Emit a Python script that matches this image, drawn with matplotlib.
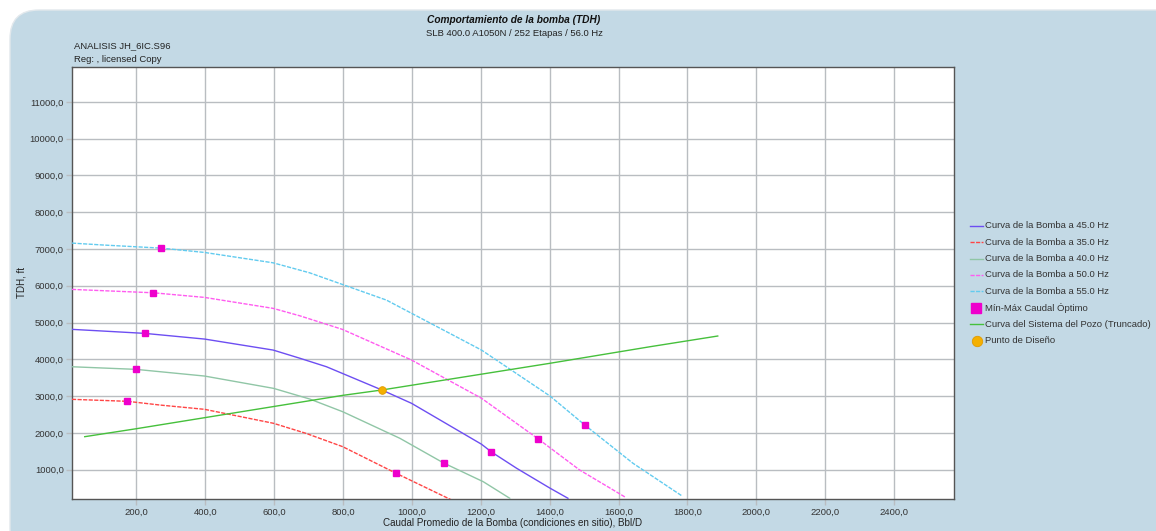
import matplotlib
matplotlib.use("Agg")
import matplotlib.pyplot as plt
from matplotlib.patches import FancyBboxPatch
from matplotlib.lines import Line2D

plt.rcParams['font.family'] = ['Liberation Sans', 'DejaVu Sans']

# ---- data ----
q_45 = [13, 103, 224, 398, 597, 674, 752, 913, 999, 1202, 1231, 1304, 1400, 1453]
h_45 = [4814, 4768, 4705, 4550, 4251, 4030, 3797, 3164, 2802, 1690, 1479, 1036, 500, 220]
q_35 = [13, 174, 268, 398, 598, 692, 799, 955, 1115]
h_35 = [2911, 2857, 2756, 2639, 2259, 1987, 1623, 895, 174]
q_40 = [13, 199, 398, 598, 703, 799, 965, 1092, 1207, 1284]
h_40 = [3797, 3726, 3544, 3210, 2920, 2574, 1851, 1180, 671, 220]
q_50 = [13, 249, 398, 597, 674, 798, 999, 1202, 1367, 1487, 1620]
h_50 = [5901, 5809, 5683, 5385, 5184, 4814, 3979, 2940, 1832, 989, 247]
q_55 = [13, 100, 271, 398, 597, 703, 926, 1202, 1401, 1503, 1642, 1783]
h_55 = [7160, 7110, 7024, 6906, 6624, 6352, 5610, 4251, 3000, 2204, 1171, 291]
opt_q = [174, 955, 199, 1092, 224, 1231, 249, 1367, 271, 1503]
opt_h = [2857, 895, 3726, 1180, 4705, 1479, 5809, 1832, 7024, 2204]
sys_q = [50, 200, 800, 912, 1400, 1691, 1888]
sys_h = [1895, 2112, 3020, 3164, 3890, 4341, 4633]
design_q = [912]
design_h = [3164]
x_ticks = [200, 400, 600, 800, 1000, 1200, 1400, 1600, 1800, 2000, 2200, 2400]
y_ticks = [1000, 2000, 3000, 4000, 5000, 6000, 7000, 8000, 9000, 10000, 11000]
legend_labels = ["Curva de la Bomba a 45.0 Hz", "Curva de la Bomba a 35.0 Hz",
                 "Curva de la Bomba a 40.0 Hz", "Curva de la Bomba a 50.0 Hz",
                 "Curva de la Bomba a 55.0 Hz", "Mín-Máx Caudal Óptimo",
                 "Curva del Sistema del Pozo (Truncado)", "Punto de Diseño"]

W, H = 1156, 531
fig = plt.figure(figsize=(W / 100, H / 100), dpi=100, facecolor='white')

bg = '#c3d9e5'
panel = FancyBboxPatch((10 / W, -0.05), 1.2, (H - 10) / H + 0.05,
                       boxstyle="round,pad=0,rounding_size=0.025",
                       transform=fig.transFigure, facecolor=bg,
                       edgecolor='#e2e8ec', lw=1.0, zorder=-10, mutation_aspect=W / H)
fig.patches.append(panel)

ax = fig.add_axes([72 / W, (H - 499) / H, (954 - 72) / W, (499 - 67) / H])
ax.set_zorder(1)
ax.set_facecolor('white')
ax.set_xlim(13, 2574)
ax.set_ylim(200, 11950)

c45, c35, c40, c50, c55 = '#6d4ef2', '#ff4545', '#90c6a6', '#ff5cf0', '#62cbef'
csys, cmark, cdes = '#46c03c', '#ee00cc', '#f5b000'

ax.plot(q_45, h_45, color=c45, lw=1.0, zorder=3)
ax.plot(q_35, h_35, color=c35, lw=1.0, dashes=(3, 1), zorder=3)
ax.plot(q_40, h_40, color=c40, lw=1.0, zorder=3)
ax.plot(q_50, h_50, color=c50, lw=1.0, dashes=(3, 1), zorder=3)
ax.plot(q_55, h_55, color=c55, lw=1.0, dashes=(3, 1), zorder=3)
ax.plot(sys_q, sys_h, color=csys, lw=1.0, zorder=3)
ax.plot(opt_q, opt_h, ls='none', marker='s', ms=3.8, color=cmark, mec=cmark, zorder=4)
ax.plot(design_q, design_h, ls='none', marker='o', ms=5.5, color=cdes, mec='#e09a00', mew=0.6, zorder=5)

FS = 6.8
ax.set_xticks(x_ticks)
ax.set_xticklabels([f"{v:.1f}".replace('.', ',') for v in x_ticks])
ax.set_yticks(y_ticks)
ax.set_yticklabels([f"{v:.1f}".replace('.', ',') for v in y_ticks])
ax.grid(True, color='#b9bdc1', lw=1.0, zorder=1)
ax.set_axisbelow(True)
ax.tick_params(axis='both', direction='out', length=4, width=1.0, color='#b9bdc1',
               labelsize=FS, labelcolor='#333333', pad=2)
for s in ax.spines.values():
    s.set_color('#555555')
    s.set_linewidth(1.0)

ax.set_xlabel("Caudal Promedio de la Bomba (condiciones en sitio), Bbl/D",
              fontsize=FS + 0.3, color='#222222', labelpad=1)
fig.text(22 / W, 1 - 282 / H, "TDH, ft", rotation=90, fontsize=FS + 0.3,
         color='#222222', ha='center', va='center')

fig.text(514 / W, 1 - 20 / H, "Comportamiento de la bomba (TDH)", fontsize=7.3,
         fontweight='bold', fontstyle='italic', ha='center', va='center', color='#111111')
fig.text(514 / W, 1 - 33.5 / H, "SLB 400.0 A1050N / 252 Etapas / 56.0 Hz", fontsize=FS,
         ha='center', va='center', color='#222222')
fig.text(74 / W, 1 - 46 / H, "ANALISIS JH_6IC.S96", fontsize=FS, ha='left', va='center', color='#222222')
fig.text(74 / W, 1 - 60 / H, "Reg: , licensed Copy", fontsize=FS, ha='left', va='center', color='#222222')

# legend (manual)
styles = [dict(color=c45), dict(color=c35, dashes=(3, 1)), dict(color=c40),
          dict(color=c50, dashes=(3, 1)), dict(color=c55, dashes=(3, 1)),
          'square', dict(color=csys), 'circle']
for i, (lab, st) in enumerate(zip(legend_labels, styles)):
    yp = 1 - (225.7 + i * 16.43) / H
    if st == 'square':
        fig.add_artist(Line2D([976 / W], [yp], ls='none', marker='s', ms=7.5,
                              color=cmark, transform=fig.transFigure))
    elif st == 'circle':
        fig.add_artist(Line2D([976.5 / W], [yp], ls='none', marker='o', ms=7.5,
                              color=cdes, mec='#e09a00', mew=0.6, transform=fig.transFigure))
    else:
        fig.add_artist(Line2D([970 / W, 983 / W], [yp, yp], lw=1.0,
                              transform=fig.transFigure, **st))
    fig.text(985 / W, yp, lab, fontsize=FS, ha='left', va='center', color='#333333')

fig.savefig("out.png", dpi=100, facecolor=fig.get_facecolor())
